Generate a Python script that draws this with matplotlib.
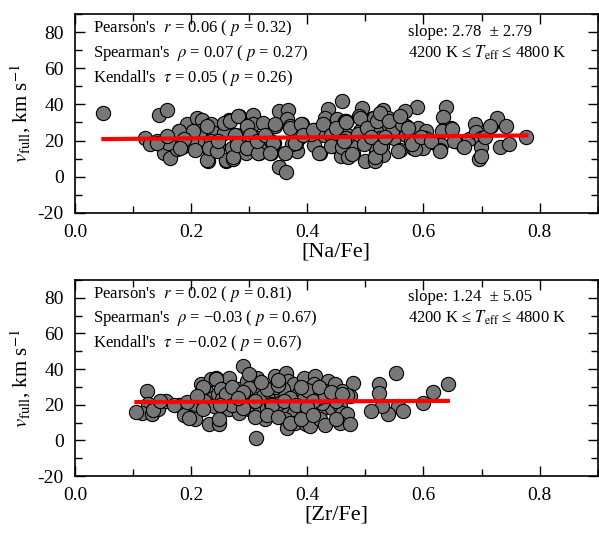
import matplotlib
matplotlib.use("Agg")
from matplotlib import pyplot as plt
from matplotlib.ticker import MultipleLocator
import numpy as np

plt.rcParams['font.family'] = ['Liberation Serif', 'DejaVu Serif']
plt.rcParams['mathtext.fontset'] = 'stix'
plt.rcParams['axes.unicode_minus'] = False

# [Na/Fe] panel
na_x = [0.049, 0.144, 0.158, 0.120, 0.129, 0.153, 0.164, 0.159, 0.164, 0.179,
        0.184, 0.193, 0.207, 0.207, 0.211, 0.218, 0.220, 0.223, 0.231, 0.229,
        0.234, 0.240, 0.246, 0.258, 0.260, 0.265, 0.142, 0.175, 0.200, 0.215,
        0.228, 0.235, 0.242,
        0.351, 0.367, 0.365, 0.371, 0.435, 0.431, 0.495, 0.489, 0.513, 0.265,
        0.283, 0.306, 0.307, 0.323, 0.297, 0.260, 0.257, 0.277, 0.288, 0.300,
        0.314, 0.271, 0.260, 0.273, 0.294, 0.317, 0.337, 0.325, 0.342, 0.351,
        0.364, 0.362, 0.382, 0.381, 0.391, 0.394, 0.411, 0.411, 0.422, 0.428,
        0.445, 0.442, 0.451, 0.455, 0.465, 0.468, 0.471, 0.479, 0.476, 0.491,
        0.505, 0.502, 0.499, 0.516, 0.519, 0.460, 0.338, 0.344, 0.374, 0.387,
        0.407, 0.424, 0.447,
        0.639, 0.633, 0.589, 0.568, 0.530, 0.515, 0.539, 0.559, 0.570, 0.590,
        0.605, 0.539, 0.519, 0.525, 0.550, 0.570, 0.579, 0.602, 0.619, 0.630,
        0.628, 0.634, 0.648, 0.655, 0.668, 0.679, 0.689, 0.691, 0.699, 0.699,
        0.696, 0.699, 0.717, 0.727, 0.742, 0.731, 0.748, 0.777, 0.559, 0.582,
        0.599, 0.528, 0.530, 0.516, 0.519, 0.546, 0.563, 0.586,
        0.179, 0.204, 0.187, 0.161, 0.142, 0.181, 0.207, 0.227, 0.230, 0.244,
        0.247, 0.256, 0.267, 0.281, 0.272, 0.276, 0.279, 0.296, 0.301, 0.296,
        0.316, 0.313, 0.327, 0.341, 0.336, 0.344, 0.370, 0.361, 0.378, 0.390,
        0.393, 0.410, 0.421, 0.427, 0.441, 0.441, 0.450, 0.467, 0.458, 0.467,
        0.159, 0.460, 0.464, 0.467, 0.470, 0.477, 0.487, 0.490, 0.497, 0.503,
        0.510, 0.517, 0.520, 0.526, 0.526, 0.533, 0.540, 0.556, 0.560, 0.573,
        0.580, 0.596, 0.613, 0.629, 0.632, 0.649, 0.652, 0.669, 0.705, 0.715]
na_v = [35.0, 34.0, 36.8, 21.5, 18.2, 13.2, 10.4, 19.3, 21.5, 25.2,
        16.5, 28.9, 22.4, 15.9, 32.6, 31.1, 23.3, 18.7, 15.0, 8.5,
        28.9, 24.3, 17.8, 28.9, 8.5, 31.1, 20.0, 15.5, 20.0, 25.5,
        28.0, 20.0, 15.5,
        36.3, 36.7, 31.7, 28.0, 37.2, 32.6, 38.2, 33.5, 32.6, 30.7,
        33.5, 34.4, 29.3, 29.8, 27.0, 28.0, 24.3, 23.3, 21.5, 19.6,
        21.5, 15.9, 9.4, 10.0, 13.2, 13.2, 13.2, 18.7, 18.7, 5.2,
        2.6, 13.2, 14.0, 18.7, 28.9, 24.3, 26.1, 17.8, 13.2, 23.3,
        20.6, 16.8, 31.7, 27.0, 30.7, 23.3, 12.2, 13.2, 17.8, 25.2,
        28.0, 21.5, 8.5, 20.6, 13.2, 42.0, 20.0, 28.0, 18.0, 21.8,
        23.6, 26.4, 24.5,
        38.5, 33.2, 38.7, 36.3, 36.7, 32.6, 32.6, 29.8, 28.0, 27.0,
        25.2, 26.1, 25.2, 21.5, 21.5, 23.3, 19.6, 21.5, 18.7, 17.8,
        14.6, 26.1, 27.0, 19.6, 16.8, 20.6, 28.9, 24.6, 21.5, 16.3,
        10.0, 11.3, 28.3, 32.6, 28.3, 16.3, 18.2, 21.8, 15.0, 15.9,
        15.9, 16.8, 12.2, 8.5, 15.9, 25.5, 29.0, 15.5,
        25.2, 25.2, 20.6, 18.7, 18.7, 15.9, 15.0, 9.4, 15.9, 14.0,
        19.6, 29.8, 30.7, 33.5, 10.7, 23.3, 17.8, 28.0, 23.3, 15.9,
        13.2, 19.6, 23.3, 18.7, 13.2, 28.9, 27.0, 13.2, 18.7, 28.9,
        23.3, 26.1, 13.2, 28.9, 23.3, 16.8, 27.0, 30.7, 11.3, 21.5,
        22.4, 16.4, 20.0, 30.0, 11.0, 12.7, 23.6, 32.7, 18.0, 27.0,
        21.8, 11.0, 31.0, 35.5, 16.4, 21.8, 31.0, 14.5, 33.6, 27.0,
        18.0, 21.8, 20.0, 14.5, 25.5, 26.4, 20.0, 16.4, 21.8, 28.0]
na_slope, na_icpt = 2.78, 20.67

# [Zr/Fe] panel
zr_x = [0.124, 0.126, 0.115, 0.132, 0.143, 0.157, 0.180, 0.203, 0.203, 0.199,
        0.207, 0.217, 0.226, 0.234, 0.243, 0.237, 0.223, 0.240, 0.220, 0.231,
        0.248, 0.246, 0.106, 0.134, 0.147, 0.170, 0.187, 0.197, 0.193,
        0.290, 0.265, 0.243, 0.251, 0.280, 0.297, 0.314, 0.317, 0.300, 0.344,
        0.364, 0.367, 0.377, 0.394, 0.414, 0.411, 0.436, 0.431, 0.448, 0.254,
        0.274, 0.294, 0.323, 0.337, 0.354, 0.385, 0.402, 0.265, 0.283, 0.285,
        0.300, 0.317, 0.331, 0.345, 0.328, 0.362, 0.377, 0.391, 0.408, 0.425,
        0.442, 0.248, 0.362, 0.365, 0.379, 0.397, 0.405, 0.422, 0.311, 0.425,
        0.308, 0.352, 0.372, 0.392, 0.418, 0.338, 0.358, 0.400, 0.275, 0.345,
        0.552, 0.642, 0.616, 0.599, 0.524, 0.524, 0.556, 0.565, 0.539, 0.528,
        0.509, 0.479, 0.459, 0.474, 0.456, 0.459, 0.468, 0.456, 0.474, 0.468,
        0.260, 0.270, 0.290, 0.310, 0.330, 0.350, 0.370, 0.390, 0.410, 0.430,
        0.450, 0.320, 0.340, 0.360, 0.380, 0.400, 0.420, 0.440, 0.460, 0.270,
        0.290, 0.310, 0.330, 0.350, 0.370, 0.390, 0.410, 0.430, 0.450, 0.300,
        0.350, 0.280, 0.220, 0.250, 0.210]
zr_v = [27.7, 20.2, 15.6, 14.6, 17.4, 22.1, 19.7, 20.2, 17.4, 13.3,
        11.8, 31.5, 27.7, 34.3, 35.2, 24.0, 22.1, 19.3, 17.4, 9.0,
        9.0, 25.8, 16.0, 17.3, 22.0, 20.0, 14.5, 12.7, 21.8,
        41.7, 35.2, 34.3, 28.6, 28.6, 33.3, 35.2, 30.5, 29.6, 36.1,
        38.0, 33.3, 31.5, 35.2, 36.1, 31.5, 33.3, 27.7, 31.5, 23.0,
        23.0, 24.9, 24.9, 26.8, 25.8, 26.8, 25.8, 17.4, 15.6, 20.2,
        17.4, 15.6, 18.4, 16.5, 11.8, 17.4, 15.6, 18.4, 15.6, 17.4,
        18.4, 11.8, 11.8, 7.1, 9.9, 9.0, 8.0, 11.8, 1.5, 21.1,
        22.0, 21.0, 23.5, 22.5, 24.0, 20.5, 29.0, 28.5, 21.5, 30.0,
        37.6, 31.5, 27.1, 20.8, 31.5, 26.8, 19.3, 16.5, 14.6, 19.3,
        16.5, 32.4, 27.7, 24.9, 19.3, 15.6, 14.6, 9.9, 9.0, 25.5,
        26.0, 30.0, 27.0, 22.0, 29.0, 31.0, 24.0, 30.0, 22.0, 25.0,
        22.0, 33.0, 20.0, 22.0, 20.0, 19.0, 30.0, 27.0, 26.0, 20.0,
        18.0, 13.0, 14.0, 13.0, 10.0, 12.0, 14.0, 8.5, 12.0, 37.0,
        34.0, 24.0, 30.0, 20.0, 25.0]
zr_slope, zr_icpt = 1.24, 21.37

panels = [
    (na_x, na_v, na_slope, na_icpt, "[Na/Fe]",
     ["Pearson's  $r$ = 0.06 ( $p$ = 0.32)",
      "Spearman's  $\\rho$ = 0.07 ( $p$ = 0.27)",
      "Kendall's  $\\tau$ = 0.05 ( $p$ = 0.26)"],
     "slope: 2.78  \u00b1 2.79"),
    (zr_x, zr_v, zr_slope, zr_icpt, "[Zr/Fe]",
     ["Pearson's  $r$ = 0.02 ( $p$ = 0.81)",
      "Spearman's  $\\rho$ = \u22120.03 ( $p$ = 0.67)",
      "Kendall's  $\\tau$ = \u22120.02 ( $p$ = 0.67)"],
     "slope: 1.24  \u00b1 5.05"),
]

fig = plt.figure(figsize=(5.99, 5.35), dpi=100)
boxes = [[0.125, 0.602, 0.873, 0.372], [0.125, 0.110, 0.873, 0.367]]

for box, (xs, vs, k, b, xlab, stats, slope_txt) in zip(boxes, panels):
    ax = fig.add_axes(box)
    ax.scatter(xs, vs, s=105, c='#777777', edgecolors='black', linewidths=0.8, zorder=2)
    xx = np.array([min(xs), max(xs)])
    ax.plot(xx, k * xx + b, color='red', lw=3, zorder=3)
    ax.set_xlim(0, 0.9)
    ax.set_ylim(-20, 90)
    ax.xaxis.set_major_locator(MultipleLocator(0.2))
    ax.xaxis.set_minor_locator(MultipleLocator(0.1))
    ax.yaxis.set_major_locator(MultipleLocator(20))
    ax.yaxis.set_minor_locator(MultipleLocator(10))
    ax.xaxis.set_major_formatter(plt.FuncFormatter(lambda v, p: "%.1f" % v))
    ax.yaxis.set_major_formatter(plt.FuncFormatter(lambda v, p: "%d" % v))
    ax.tick_params(which='major', direction='in', top=True, right=True,
                   length=7, width=1, labelsize=14, pad=8)
    ax.tick_params(which='minor', direction='in', top=True, right=True,
                   length=5, width=1)
    for sp in ax.spines.values():
        sp.set_linewidth(1.2)
    ax.set_xlabel(xlab, fontsize=16, labelpad=1)
    ax.set_ylabel("$v_{\\rm full}$, km s$^{-1}$", fontsize=15, labelpad=3)
    for i, t in enumerate(stats):
        ax.text(0.034, 0.93 - i * 0.125, t, transform=ax.transAxes,
                fontsize=12, va='center', ha='left')
    ax.text(0.637, 0.91, slope_txt, transform=ax.transAxes,
            fontsize=12, va='center', ha='left')
    ax.text(0.637, 0.805, "4200 K \u2264 $T_{\\rm eff}$ \u2264 4800 K",
            transform=ax.transAxes, fontsize=12, va='center', ha='left')

plt.savefig("out.png")
